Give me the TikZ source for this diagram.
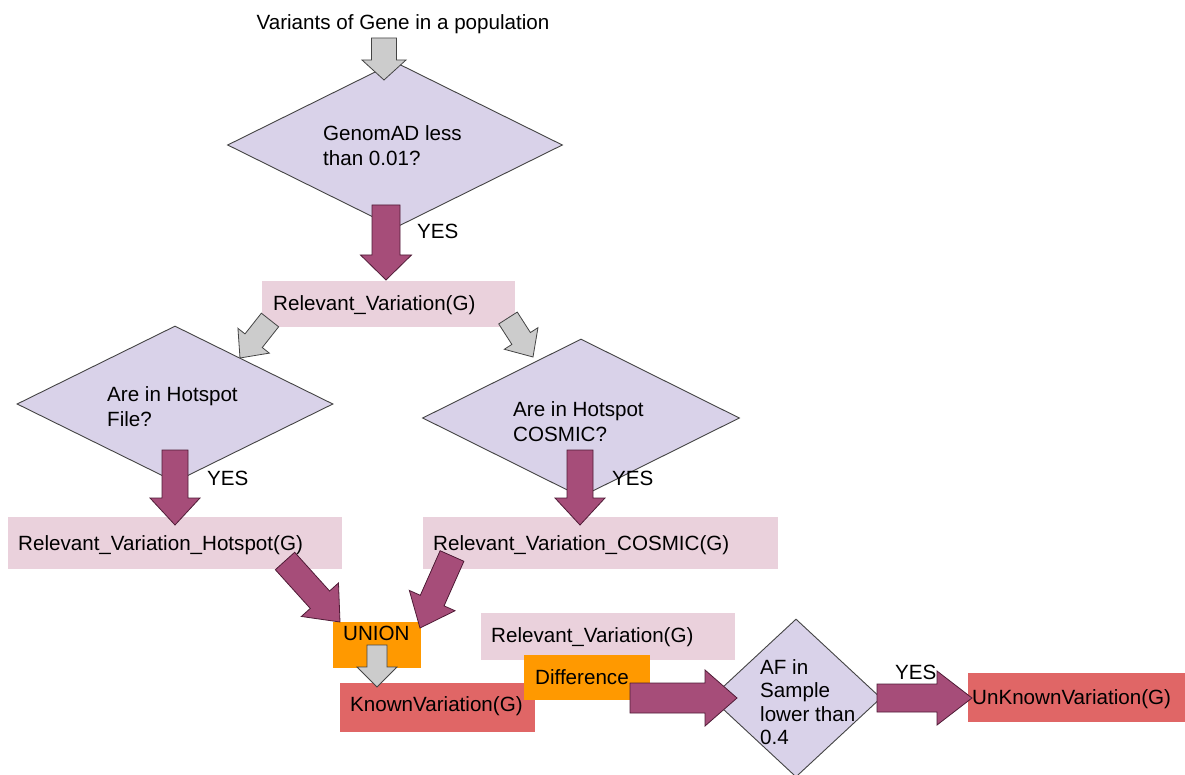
\documentclass[tikz,border=0pt]{standalone}
\usepackage{fontspec}
\setmainfont{Liberation Sans}
\usetikzlibrary{calc,shapes.geometric}
\definecolor{dfill}{HTML}{D9D2E9}
\definecolor{pinkbox}{HTML}{EAD1DC}
\definecolor{orangebox}{HTML}{FF9900}
\definecolor{redbox}{HTML}{E06666}
\definecolor{purparrow}{HTML}{A64D79}
\definecolor{purpline}{HTML}{4F1B36}
\definecolor{grayarrow}{HTML}{CCCCCC}
\definecolor{darkline}{HTML}{444444}
\newcommand{\blkarrow}[6]{%
  \coordinate (ba-h) at ($(#3)!#6!(#2)$);
  \path[#1] ($(#2)!#4!90:(#3)$) -- ($(ba-h)!#4!90:(#3)$) -- ($(ba-h)!#5!90:(#3)$) -- (#3)
    -- ($(ba-h)!#5!-90:(#3)$) -- ($(ba-h)!#4!-90:(#3)$) -- ($(#2)!#4!-90:(#3)$) -- cycle;
}
\tikzset{
  decision/.style={diamond, draw=darkline, fill=dfill, line width=0.9pt, inner sep=0pt},
  box/.style={rectangle, inner sep=0pt, anchor=north west},
  lbl/.style={inner sep=0pt, anchor=base west, font=\fontsize{20.6}{24}\selectfont},
  parrow/.style={fill=purparrow, draw=purpline, line width=0.8pt, line join=miter},
  garrow/.style={fill=grayarrow, draw=darkline, line width=0.8pt, line join=miter},
}
\begin{document}
\begin{tikzpicture}[x=1pt,y=-1pt]
\useasboundingbox[fill=white] (0,0) rectangle (1185,775);

% title
\node[lbl, anchor=base] (title) at (403,30) {Variants of Gene in a population};

% diamonds
\node[decision, minimum width=335pt, minimum height=166pt] (d1) at (395,145) {};
\node[lbl] (d1t1) at (323,141) {GenomAD less};
\node[lbl] (d1t2) at (323,166) {than 0.01?};

% top box
\node[box, fill=pinkbox, minimum width=253pt, minimum height=46pt] (rv) at (262,281) {};
\node[lbl] (rvt) at (273,311) {Relevant\_Variation(G)};

\node[decision, minimum width=316pt, minimum height=156pt] (d2) at (175,404) {};
\node[lbl] (d2t1) at (107,401) {Are in Hotspot};
\node[lbl] (d2t2) at (107,426) {File?};

\node[decision, minimum width=317pt, minimum height=158pt] (d3) at (581,418) {};
\node[lbl] (d3t1) at (513,416) {Are in Hotspot};
\node[lbl] (d3t2) at (513,441) {COSMIC?};

% boxes row
\node[box, fill=pinkbox, minimum width=334pt, minimum height=52pt] (rvh) at (8,517) {};
\node[lbl] (rvht) at (18,550) {Relevant\_Variation\_Hotspot(G)};
\node[box, fill=pinkbox, minimum width=355pt, minimum height=52pt] (rvc) at (423,517) {};
\node[lbl] (rvct) at (433,550) {Relevant\_Variation\_COSMIC(G)};

% lower boxes
\node[box, fill=redbox, minimum width=195pt, minimum height=49pt] (kv) at (340,683) {};
\node[lbl] (kvt) at (350,711) {KnownVariation(G)};
\node[box, fill=orangebox, minimum width=88pt, minimum height=46pt] (un) at (333,622) {};
\node[lbl] (unt) at (343,640) {UNION};
\node[box, fill=pinkbox, minimum width=254pt, minimum height=47pt] (rv2) at (481,613) {};
\node[lbl] (rv2t) at (491,642) {Relevant\_Variation(G)};
\node[box, fill=orangebox, minimum width=126pt, minimum height=45pt] (df) at (524,655) {};
\node[lbl] (dft) at (535,684) {Difference};

\node[decision, minimum width=170pt, minimum height=158pt] (d4) at (796,698) {};
\node[lbl] (d4t1) at (760,674) {AF in};
\node[lbl] (d4t2) at (760,697) {Sample};
\node[lbl] (d4t3) at (760,721) {lower than};
\node[lbl] (d4t4) at (760,744) {0.4};

\node[box, fill=redbox, minimum width=217pt, minimum height=49pt] (ukv) at (968,673) {};
\node[lbl] (ukvt) at (972,704) {UnKnownVariation(G)};

% YES labels
\node[lbl] (y1) at (417,239) {YES};
\node[lbl] (y2) at (207,485) {YES};
\node[lbl] (y3) at (612,485) {YES};
\node[lbl] (y4) at (895,679) {YES};

% arrow end points
\coordinate (a1s) at (384,38);   \coordinate (a1e) at (384,80);
\coordinate (a2s) at (386,205);  \coordinate (a2e) at (386,280);
\coordinate (a3s) at (270,320);  \coordinate (a3e) at (240,358);
\coordinate (a4s) at (508,318);  \coordinate (a4e) at (533,357);
\coordinate (a5s) at (175,450);  \coordinate (a5e) at (175,525);
\coordinate (a6s) at (580,450);  \coordinate (a6e) at (580,525);
\coordinate (a7s) at (285,561);  \coordinate (a7e) at (340,622);
\coordinate (a8s) at (452,556);  \coordinate (a8e) at (420,628);
\coordinate (a9s) at (377,645);  \coordinate (a9e) at (377,687);
\coordinate (a10s) at (630,698); \coordinate (a10e) at (737,698);
\coordinate (a11s) at (877,698); \coordinate (a11e) at (972,698);

\blkarrow{garrow}{a1s}{a1e}{12.5pt}{22pt}{20pt}
\blkarrow{parrow}{a2s}{a2e}{14pt}{25.5pt}{25pt}
\blkarrow{garrow}{a3s}{a3e}{11pt}{20pt}{22pt}
\blkarrow{garrow}{a4s}{a4e}{11pt}{20pt}{22pt}
\blkarrow{parrow}{a5s}{a5e}{13pt}{25pt}{27pt}
\blkarrow{parrow}{a6s}{a6e}{13pt}{25pt}{27pt}
\blkarrow{parrow}{a7s}{a7e}{13pt}{25pt}{30pt}
\blkarrow{parrow}{a8s}{a8e}{13pt}{25pt}{30pt}
\blkarrow{garrow}{a9s}{a9e}{10pt}{20pt}{20pt}
\blkarrow{parrow}{a10s}{a10e}{15pt}{28pt}{32pt}
\blkarrow{parrow}{a11s}{a11e}{14pt}{27pt}{35pt}
\end{tikzpicture}
\end{document}
